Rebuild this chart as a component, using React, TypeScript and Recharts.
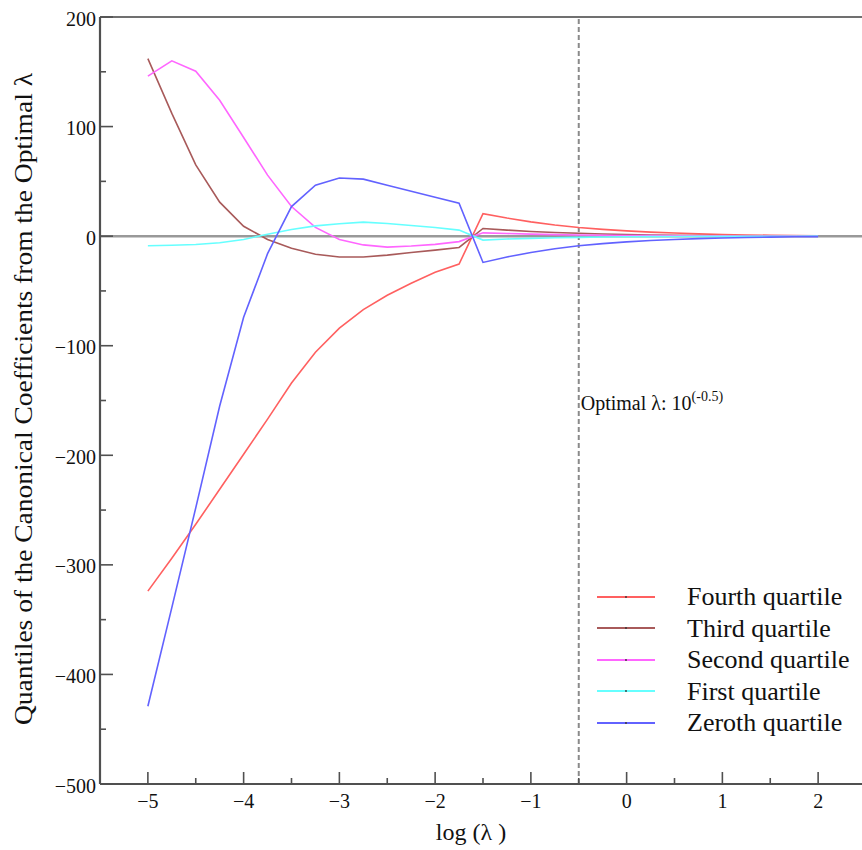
import React from 'react';
import { LineChart, Line, XAxis, YAxis, ReferenceLine, Legend } from 'recharts';

const logLambda = [-5, -4.75, -4.5, -4.25, -4, -3.75, -3.5, -3.25, -3, -2.75, -2.5, -2.25, -2, -1.75, -1.5, -1.25, -1, -0.75, -0.5, -0.25, 0, 0.25, 0.5, 0.75, 1, 1.25, 1.5, 1.75, 2];

const fourthQuartile = [-324, -294, -263, -231, -199, -167, -134, -106, -84, -67, -54, -43, -33, -25.5, 20.5, 16.5, 13, 10.2, 7.9, 6.2, 4.8, 3.7, 2.8, 2.1, 1.5, 1.1, 0.8, 0.5, 0.3];
const thirdQuartile = [162, 112, 65, 31, 9, -3, -11, -16.5, -19, -19, -17.3, -15, -12.8, -10.3, 7, 5.5, 4.3, 3.3, 2.6, 2, 1.5, 1.1, 0.8, 0.6, 0.4, 0.3, 0.2, 0.1, 0.1];
const secondQuartile = [146, 160, 150.5, 124, 90, 55.7, 27, 8, -3, -8, -10, -9, -7.5, -5, 3, 2.4, 1.8, 1.4, 1.1, 0.8, 0.6, 0.45, 0.35, 0.25, 0.2, 0.15, 0.1, 0.05, 0];
const firstQuartile = [-8.8, -8.3, -7.6, -6.1, -3, 1.8, 6, 9.4, 11.3, 12.8, 11.5, 9.7, 7.9, 5.5, -3.6, -2.6, -2, -1.5, -1.1, -0.8, -0.6, -0.45, -0.35, -0.25, -0.2, -0.15, -0.1, -0.05, 0];
const zerothQuartile = [-429, -339, -248, -155, -74, -16, 27, 46.5, 53, 52, 46.5, 41, 35.5, 30, -24, -19, -15, -11.5, -8.8, -6.8, -5.2, -4, -3, -2.3, -1.7, -1.2, -0.9, -0.6, -0.4];

const seriesKeys = ['fourth', 'third', 'second', 'first', 'zeroth'];
const seriesNames = ['Fourth quartile', 'Third quartile', 'Second quartile', 'First quartile', 'Zeroth quartile'];
const seriesColors = ['#ff6060', '#a85a5a', '#ff66ff', '#66ffff', '#6262ff'];

const xMajorTicks = [-5, -4, -3, -2, -1, 0, 1, 2];
const xMinorTicks = [-4.5, -3.5, -2.5, -1.5, -0.5, 0.5, 1.5];
const yMajorTicks = [-500, -400, -300, -200, -100, 0, 100, 200];
const yMinorTicks = [-450, -350, -250, -150, -50, 50, 150];

const optimalLogLambda = -0.5;

const seriesValues = [fourthQuartile, thirdQuartile, secondQuartile, firstQuartile, zerothQuartile];
const data = logLambda.map((x, i) => {
  const row: Record<string, number> = { x };
  seriesKeys.forEach((k, j) => {
    row[k] = seriesValues[j][i];
  });
  return row;
});

const FONT = '"Liberation Serif", "Times New Roman", serif';
const AXIS_COLOR = '#505050';

const fmt = (v: number) => (v < 0 ? '\u2212' + Math.abs(v) : String(v));

const XTick = (props: any) => {
  const { x, y, payload } = props;
  const v = payload.value;
  const major = xMajorTicks.includes(v);
  return (
    <g>
      <line x1={x} x2={x} y1={y} y2={y - (major ? 12 : 6)} stroke={AXIS_COLOR} strokeWidth={1.6} />
      {major && (
        <text x={x} y={y + 24} textAnchor="middle" fontSize={20} fontFamily={FONT} fill="#111">
          {fmt(v)}
        </text>
      )}
    </g>
  );
};

const YTick = (props: any) => {
  const { x, y, payload } = props;
  const v = payload.value;
  const major = yMajorTicks.includes(v);
  return (
    <g>
      <line x1={x} x2={x + (major ? 13 : 6)} y1={y} y2={y} stroke={AXIS_COLOR} strokeWidth={1.6} />
      {major && (
        <text x={x - 4} y={y + 8.5} textAnchor="end" fontSize={20} fontFamily={FONT} fill="#111">
          {fmt(v)}
        </text>
      )}
    </g>
  );
};

const YLabel = () => (
  <text
    x={32}
    y={399}
    transform="rotate(-90 32 399)"
    textAnchor="middle"
    fontSize={26}
    fontFamily={FONT}
    fill="#111"
    textLength={652}
    lengthAdjust="spacingAndGlyphs"
  >
    Quantiles of the Canonical Coefficients from the Optimal λ
  </text>
);

const XLabel = () => (
  <text x={471} y={840} textAnchor="middle" fontSize={24} fontFamily={FONT} fill="#111">
    log (λ )
  </text>
);

const OptimalLabel = (props: any) => {
  const vb = props.viewBox || {};
  const x = (vb.x ?? 0) + 2;
  const y = (vb.y ?? 0) + 393;
  return (
    <text x={x} y={y} fontSize={20} fontFamily={FONT} fill="#111">
      Optimal λ: 10
      <tspan fontSize={14} dy={-9}>(-0.5)</tspan>
    </text>
  );
};

const renderLegend = () => (
  <div style={{ fontFamily: FONT }}>
    {seriesNames.map((name, i) => (
      <div key={name} style={{ display: 'flex', alignItems: 'center', height: 31.5 }}>
        <svg width={58} height={6} style={{ display: 'block' }}>
          <line x1={0} x2={58} y1={3} y2={3} stroke={seriesColors[i]} strokeWidth={2} />
          <circle cx={29} cy={3} r={0.9} fill="#333" />
        </svg>
        <span style={{ marginLeft: 32, fontSize: 26, color: '#111', lineHeight: '31px', whiteSpace: 'nowrap' }}>
          {name}
        </span>
      </div>
    ))}
  </div>
);

export default function App() {
  const xTicks = [...xMajorTicks, ...xMinorTicks].sort((a, b) => a - b);
  const yTicks = [...yMajorTicks, ...yMinorTicks].sort((a, b) => a - b);
  return (
    <div style={{ position: 'absolute', left: 0, top: 0, width: 862, height: 850, overflow: 'hidden', background: '#fff' }}>
      <LineChart width={866} height={850} data={data} margin={{ top: 17, right: 0, bottom: 0, left: 0 }}>
        <XAxis
          type="number"
          dataKey="x"
          domain={[-5.5, 2.5]}
          ticks={xTicks}
          interval={0}
          allowDataOverflow
          height={66}
          tickSize={0}
          tickMargin={0}
          tick={<XTick />}
          axisLine={{ stroke: AXIS_COLOR, strokeWidth: 2.2 }}
          tickLine={false}
          label={<XLabel />}
        />
        <YAxis
          type="number"
          domain={[-500, 200]}
          ticks={yTicks}
          interval={0}
          allowDataOverflow
          width={100}
          tickSize={0}
          tickMargin={0}
          tick={<YTick />}
          axisLine={{ stroke: AXIS_COLOR, strokeWidth: 2.2 }}
          tickLine={false}
          label={<YLabel />}
        />
        <ReferenceLine y={200} stroke="#707070" strokeWidth={2.2} />
        <ReferenceLine y={0} stroke="#999999" strokeWidth={2.5} />
        <ReferenceLine
          x={optimalLogLambda}
          stroke="#8a8a8a"
          strokeWidth={2}
          strokeDasharray="5 3"
          label={<OptimalLabel />}
        />
        {seriesKeys.map((k, i) => (
          <Line
            key={k}
            type="linear"
            dataKey={k}
            name={seriesNames[i]}
            stroke={seriesColors[i]}
            strokeWidth={1.6}
            dot={false}
            activeDot={false}
            isAnimationActive={false}
          />
        ))}
        <Legend
          layout="horizontal"
          verticalAlign="middle"
          align="center"
          wrapperStyle={{ left: 597, top: 581, width: 265 }}
          content={renderLegend}
        />
      </LineChart>
    </div>
  );
}
